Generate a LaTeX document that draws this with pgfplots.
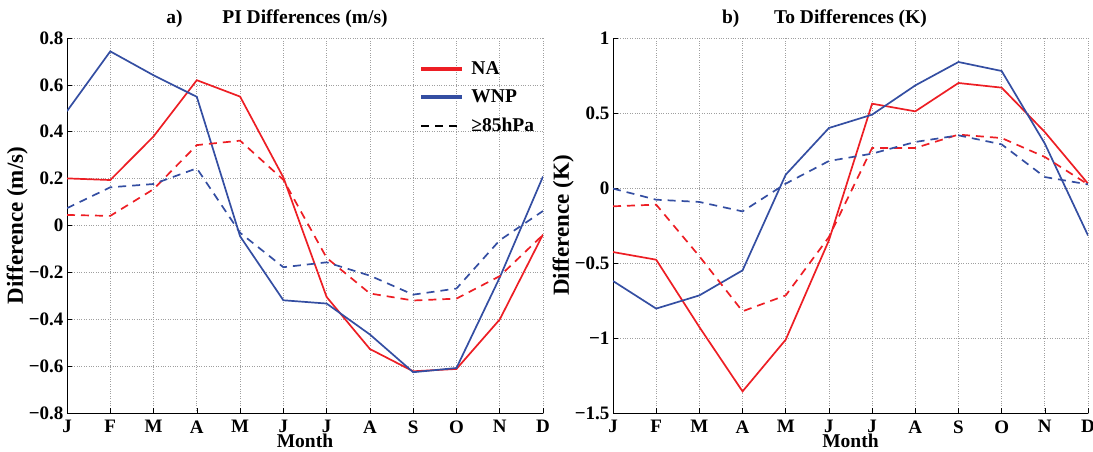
\documentclass[border=0pt]{standalone}
\usepackage{pgfplots}
\pgfplotsset{compat=1.18}
\usepackage{fontspec}
\setmainfont{Liberation Serif}
\definecolor{myred}{RGB}{237,30,36}
\definecolor{myblue}{RGB}{52,78,162}
\newcommand{\tickf}{\fontsize{19}{21}\selectfont\bfseries}
\newcommand{\titf}{\fontsize{19.5}{22}\selectfont\bfseries}
\newcommand{\ylabf}{\fontsize{23}{25}\selectfont\bfseries}
\pgfplotsset{
 mystyle/.style={
  scale only axis, width=476pt, height=375pt,
  xmin=0, xmax=11, xtick={0,...,11},
  xticklabels={J,F,M,A,M,J,J,A,S,O,N,D},
  axis x line*=bottom, axis y line*=left,
  clip mode=individual,
  grid=major, grid style={dotted, gray!75, line width=0.7pt},
  tick align=inside, major tick length=5pt,
  tick style={black, line width=0.6pt},
  axis line style={black, line width=0.8pt},
  tick label style={font=\tickf},
  xticklabel style={yshift=-4pt},
  xlabel={Month},
  xlabel style={font=\titf, yshift=6pt},
  every axis y label/.style={at={(axis description cs:#1,0.5)}, anchor=south, rotate=90, inner sep=0pt, font=\ylabf},
  title style={font=\titf, yshift=1pt},
 },
 solidl/.style={line width=1.7pt},
 dashl/.style={line width=1.7pt, dash pattern=on 8pt off 6pt},
}
\begin{document}
\begin{tikzpicture}[x=1pt,y=1pt]
\useasboundingbox (0,0) rectangle (1093,451);
\begin{axis}[mystyle, at={(67pt,38pt)}, anchor=south west,
  every axis y label/.append style={at={(axis description cs:-0.082,0.5)}},
  ymin=-0.8, ymax=0.8, ytick={-0.8,-0.6,-0.4,-0.2,0,0.2,0.4,0.6,0.8},
  yticklabels={−0.8,−0.6,−0.4,−0.2,0,0.2,0.4,0.6,0.8},
  ylabel={Difference (m/s)},
  title={PI Differences (m/s)},
  legend style={draw=none, fill=none, at={(rel axis cs:0.74,0.94)}, anchor=north west,
    font=\titf, row sep=12pt, inner sep=0pt, legend cell align=left,
    nodes={inner sep=1pt}},
  legend image code/.code={\draw[#1] (0pt,0pt) -- (41pt,0pt); \path (47pt,0pt);},
]
\addlegendimage{myred, line width=4pt}
\addlegendentry{NA}
\addlegendimage{myblue, line width=4pt}
\addlegendentry{WNP}
\addlegendimage{black, line width=1.7pt, dash pattern=on 8pt off 6pt}
\addlegendentry{≥85hPa}
% NA solid
\addplot[myred, solidl, forget plot] coordinates {
(0,0.201) (1,0.194) (2,0.380) (3,0.620) (4,0.550) (5,0.205) (6,-0.305) (7,-0.527) (8,-0.622) (9,-0.612) (10,-0.401) (11,-0.038)};
% WNP solid
\addplot[myblue, solidl, forget plot] coordinates {
(0,0.488) (1,0.743) (2,0.641) (3,0.549) (4,-0.046) (5,-0.319) (6,-0.333) (7,-0.465) (8,-0.626) (9,-0.608) (10,-0.222) (11,0.209)};
% NA dashed
\addplot[myred, dashl, forget plot] coordinates {
(0,0.045) (1,0.041) (2,0.155) (3,0.343) (4,0.362) (5,0.195) (6,-0.138) (7,-0.290) (8,-0.320) (9,-0.312) (10,-0.216) (11,-0.040)};
% WNP dashed
\addplot[myblue, dashl, forget plot] coordinates {
(0,0.074) (1,0.163) (2,0.177) (3,0.244) (4,-0.031) (5,-0.178) (6,-0.157) (7,-0.214) (8,-0.295) (9,-0.269) (10,-0.063) (11,0.062)};
\node[font=\titf] at (axis description cs:0.226,1) [yshift=19pt] {a)};
\end{axis}
\begin{axis}[mystyle, width=475pt, at={(613pt,38pt)}, anchor=south west,
  every axis y label/.append style={at={(axis description cs:-0.082,0.5)}},
  ymin=-1.5, ymax=1, ytick={-1.5,-1,-0.5,0,0.5,1},
  yticklabels={−1.5,−1,−0.5,0,0.5,1},
  ylabel={Difference (K)},
  title={To Differences (K)},
]
% NA solid
\addplot[myred, solidl] coordinates {
(0,-0.427) (1,-0.478) (2,-0.927) (3,-1.356) (4,-1.011) (5,-0.349) (6,0.562) (7,0.511) (8,0.700) (9,0.669) (10,0.373) (11,0.029)};
% WNP solid
\addplot[myblue, solidl] coordinates {
(0,-0.620) (1,-0.804) (2,-0.716) (3,-0.549) (4,0.089) (5,0.400) (6,0.489) (7,0.684) (8,0.840) (9,0.780) (10,0.296) (11,-0.316)};
% NA dashed
\addplot[myred, dashl] coordinates {
(0,-0.122) (1,-0.111) (2,-0.455) (3,-0.822) (4,-0.716) (5,-0.327) (6,0.267) (7,0.267) (8,0.356) (9,0.333) (10,0.207) (11,0.024)};
% WNP dashed
\addplot[myblue, dashl] coordinates {
(0,-0.004) (1,-0.078) (2,-0.093) (3,-0.156) (4,0.029) (5,0.180) (6,0.229) (7,0.307) (8,0.351) (9,0.291) (10,0.073) (11,0.024)};
\node[font=\titf] at (axis description cs:0.248,1) [yshift=19pt] {b)};
\end{axis}
\end{tikzpicture}
\end{document}
